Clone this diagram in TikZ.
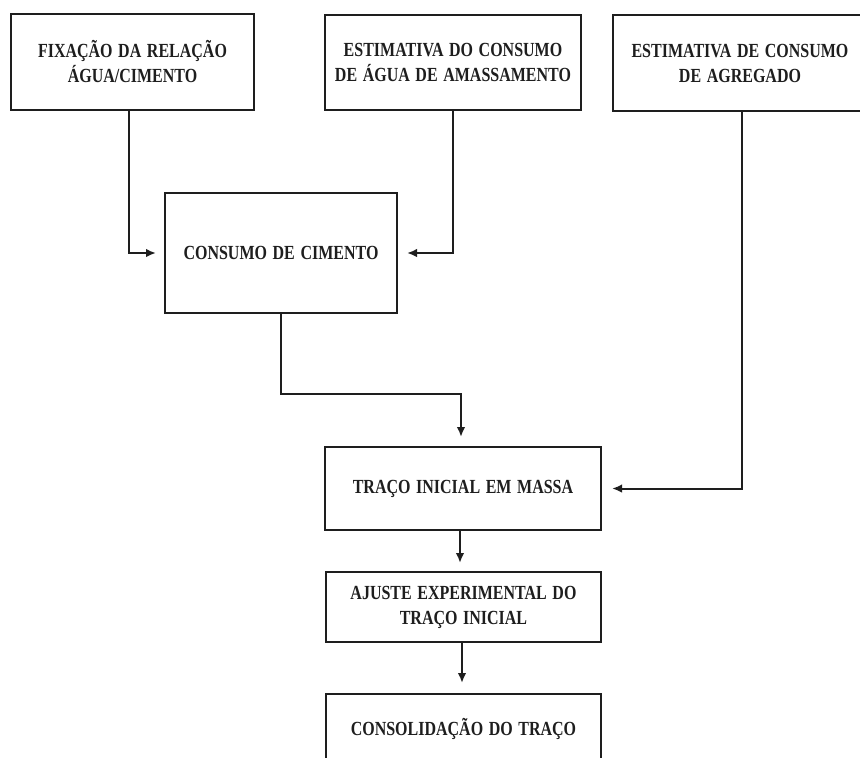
\documentclass[tikz,border=0pt]{standalone}
\usepackage{fontspec}
\setmainfont{Liberation Serif}[FakeStretch=0.8,WordSpace=1.4]
\usetikzlibrary{arrows.meta}
\definecolor{ink}{HTML}{1E1E1E}
\tikzset{
  box/.style={draw=ink, line width=2.3pt, inner sep=0pt, outer sep=0pt,
    align=center, font=\bfseries\fontsize{20}{25}\selectfont, text=ink},
  conn/.style={draw=ink, line width=2pt, -{Latex[length=10pt,width=8.5pt]}}
}
\begin{document}
\begin{tikzpicture}[x=1pt,y=1pt]
\useasboundingbox (0,0) rectangle (860,-758);
\node[box, minimum width=243pt, minimum height=96pt] (b1) at (132.5,-62) {FIXAÇÃO DA RELAÇÃO\\ÁGUA/CIMENTO};
\node[box, minimum width=256pt, minimum height=95pt] (b2) at (453,-62.5) {ESTIMATIVA DO CONSUMO\\DE ÁGUA DE AMASSAMENTO};
\node[box, minimum width=254pt, minimum height=96pt] (b3) at (740,-63) {ESTIMATIVA DE CONSUMO\\DE AGREGADO};
\node[box, minimum width=232pt, minimum height=120pt] (cons) at (281,-253) {CONSUMO DE CIMENTO};
\node[box, minimum width=276pt, minimum height=83pt] (traco) at (463,-488.5) {TRAÇO INICIAL EM MASSA};
\node[box, minimum width=275pt, minimum height=70pt] (ajuste) at (463.5,-607) {AJUSTE EXPERIMENTAL DO\\TRAÇO INICIAL};
\node[box, minimum width=275pt, minimum height=70pt] (consol) at (463.5,-729) {CONSOLIDAÇÃO DO TRAÇO};
\draw[conn, shorten >=9pt] ([xshift=-3.5pt]b1.south) |- (cons.west);
\draw[conn, shorten >=10pt] (b2.south) |- (cons.east);
\draw[conn, shorten >=11pt] ([xshift=2pt]b3.south) |- (traco.east);
\draw[conn, shorten >=10pt] (cons.south) -- ++(0,-81) -| ([xshift=-2pt]traco.north);
\draw[conn, shorten >=9pt] ([xshift=-3pt]traco.south) -- ([xshift=-3pt]traco.south |- ajuste.north);
\draw[conn, shorten >=11pt] ([xshift=-1.5pt]ajuste.south) -- ([xshift=-1.5pt]ajuste.south |- consol.north);
\end{tikzpicture}
\end{document}
